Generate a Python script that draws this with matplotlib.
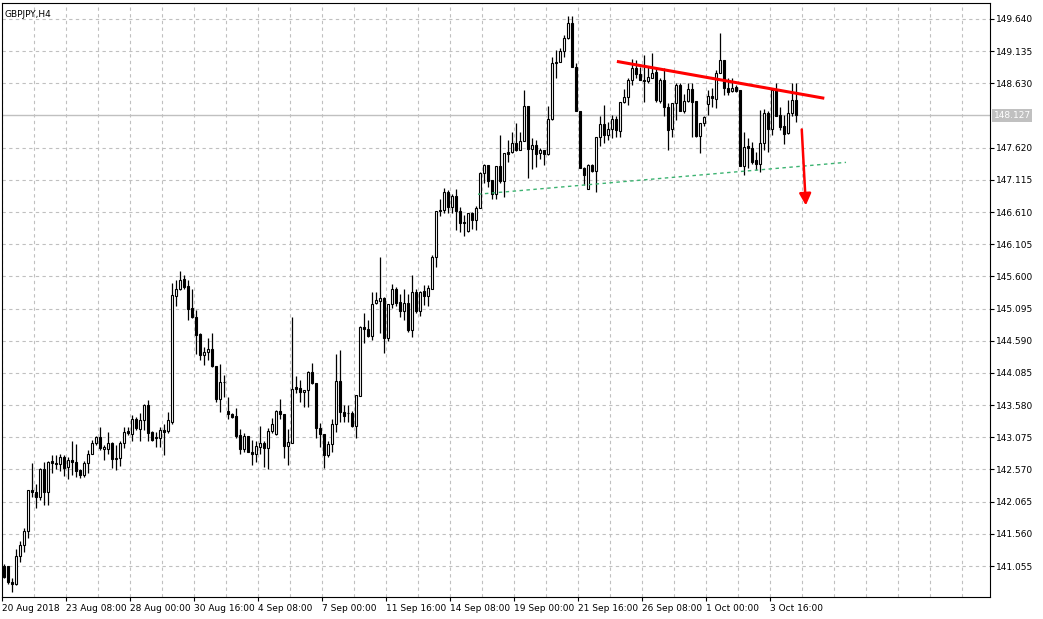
import matplotlib
matplotlib.use("Agg")
import matplotlib.pyplot as plt
import numpy as np

# GBPJPY H4 candles, first bar = 20 Aug 2018 16:00
opens = [141.05, 141.05, 140.80, 140.78, 141.21, 141.39, 141.60, 142.25, 142.21, 142.14,
         142.57, 142.21, 142.70, 142.67, 142.65, 142.76, 142.61, 142.72, 142.68, 142.56,
         142.48, 142.67, 142.82, 142.98, 143.08, 142.89, 142.89, 142.99, 142.74, 142.75,
         142.98, 143.17, 143.12, 143.36, 143.21, 143.34, 143.59, 143.16, 143.07, 143.07,
         143.19, 143.18, 143.32, 145.30, 145.40, 145.56, 145.45, 145.10, 144.96, 144.69,
         144.37, 144.41, 144.46, 144.19, 143.68, 143.94, 143.49, 143.44, 143.41, 143.11,
         142.89, 143.10, 142.85, 142.82, 142.93, 142.98, 142.90, 143.17, 143.12, 143.49,
         143.44, 142.94, 142.99, 143.87, 143.85, 143.78, 143.81, 144.10, 143.92, 143.22,
         143.12, 142.79, 142.97, 143.29, 143.96, 143.48, 143.45, 143.45, 143.26, 143.73,
         144.80, 144.77, 144.67, 145.18, 145.22, 145.26, 144.63, 145.17, 145.40, 145.20,
         145.05, 145.19, 144.76, 145.35, 145.05, 145.37, 145.30, 145.41, 145.91, 146.63,
         146.65, 146.93, 146.69, 146.86, 146.63, 146.46, 146.31, 146.59, 146.49, 146.68,
         147.22, 147.35, 147.11, 146.89, 147.34, 147.09, 147.55, 147.55, 147.70, 147.58,
         147.72, 148.27, 147.60, 147.67, 147.53, 147.58, 147.52, 148.07, 148.95, 148.97,
         149.13, 149.34, 149.58, 148.89, 148.20, 147.30, 146.97, 147.35, 147.25, 147.79,
         147.99, 147.82, 147.92, 148.07, 147.89, 148.34, 148.41, 148.69, 148.87, 148.78,
         148.69, 148.66, 148.72, 148.81, 148.36, 148.68, 148.26, 147.92, 148.32, 148.61,
         148.20, 148.35, 148.54, 148.35, 147.80, 148.00, 148.30, 148.43, 148.38, 148.80,
         148.99, 148.55, 148.51, 148.58, 148.53, 147.34, 147.64, 147.61, 147.42, 147.37,
         147.69, 148.17, 147.91, 148.52, 148.13, 147.96, 147.85, 148.17, 148.37]
highs = [141.08, 141.06, 140.86, 141.33, 141.44, 141.65, 142.25, 142.67, 142.35, 142.59,
         142.68, 142.71, 142.80, 142.80, 142.81, 142.80, 142.77, 143.01, 142.97, 142.57,
         142.70, 142.87, 143.03, 143.10, 143.24, 142.96, 143.16, 143.00, 142.95, 143.01,
         143.24, 143.24, 143.43, 143.40, 143.45, 143.60, 143.66, 143.18, 143.16, 143.24,
         143.28, 143.48, 145.49, 145.55, 145.69, 145.62, 145.54, 145.41, 145.07, 144.71,
         144.50, 144.63, 144.71, 144.19, 144.23, 144.05, 143.71, 143.45, 143.53, 143.21,
         143.15, 143.10, 143.03, 143.01, 143.25, 143.02, 143.22, 143.38, 143.50, 143.68,
         143.44, 143.21, 144.97, 144.03, 143.98, 143.82, 144.11, 144.24, 143.92, 143.30,
         143.12, 143.02, 143.37, 144.38, 144.44, 143.58, 143.58, 143.49, 143.74, 144.82,
         145.02, 144.92, 145.36, 145.35, 145.90, 145.28, 145.17, 145.48, 145.44, 145.33,
         145.41, 145.33, 145.63, 145.41, 145.37, 145.47, 145.47, 145.94, 146.62, 146.81,
         146.99, 146.96, 146.90, 146.97, 146.69, 146.56, 146.60, 146.61, 146.70, 147.24,
         147.36, 147.35, 147.11, 147.34, 147.82, 147.53, 147.74, 147.87, 148.00, 147.87,
         148.53, 148.27, 147.77, 147.74, 147.61, 147.59, 148.27, 149.05, 149.15, 149.18,
         149.39, 149.69, 149.69, 148.95, 148.20, 147.32, 147.36, 147.36, 147.79, 148.11,
         148.29, 148.03, 148.13, 148.11, 148.34, 148.54, 148.71, 149.01, 149.00, 148.89,
         149.07, 148.88, 149.10, 148.87, 148.71, 148.87, 148.32, 148.32, 148.63, 148.63,
         148.47, 148.63, 148.63, 148.35, 148.01, 148.12, 148.53, 148.55, 148.84, 149.42,
         148.99, 148.71, 148.71, 148.60, 148.53, 147.87, 147.77, 147.71, 147.56, 148.21,
         148.22, 148.20, 148.55, 148.63, 148.26, 148.13, 148.37, 148.63, 148.63]
lows = [140.86, 140.78, 140.65, 140.76, 141.12, 141.28, 141.49, 142.14, 141.97, 142.09,
        142.02, 142.02, 142.52, 142.58, 142.55, 142.47, 142.42, 142.48, 142.46, 142.43,
        142.45, 142.52, 142.81, 142.95, 142.88, 142.72, 142.82, 142.59, 142.56, 142.63,
        142.90, 143.11, 143.01, 143.19, 143.02, 143.19, 143.01, 143.01, 142.93, 142.93,
        142.80, 143.15, 143.29, 145.14, 145.39, 145.40, 144.91, 144.94, 144.39, 144.29,
        144.21, 144.29, 144.18, 143.63, 143.48, 143.71, 143.37, 143.38, 143.06, 142.81,
        142.85, 142.85, 142.64, 142.68, 142.81, 142.61, 142.58, 143.14, 143.11, 143.37,
        142.75, 142.64, 142.99, 143.77, 143.63, 143.55, 143.55, 143.91, 143.06, 142.93,
        142.60, 142.76, 142.84, 143.16, 143.31, 143.32, 143.31, 143.24, 143.06, 143.73,
        144.55, 144.65, 144.60, 145.16, 144.71, 144.40, 144.58, 145.10, 145.13, 144.97,
        144.92, 144.73, 144.65, 145.02, 144.98, 145.15, 145.13, 145.41, 145.75, 146.55,
        146.59, 146.59, 146.60, 146.33, 146.30, 146.23, 146.30, 146.35, 146.33, 146.68,
        147.06, 147.01, 146.81, 146.81, 147.06, 146.85, 147.40, 147.54, 147.57, 147.58,
        147.72, 147.14, 147.28, 147.32, 147.45, 147.35, 147.51, 148.06, 148.71, 148.97,
        149.05, 149.32, 148.89, 148.19, 147.30, 147.04, 146.97, 147.24, 146.93, 147.64,
        147.69, 147.74, 147.78, 147.79, 147.79, 148.32, 148.29, 148.60, 148.71, 148.68,
        148.34, 148.63, 148.71, 148.34, 148.32, 148.12, 147.58, 147.79, 148.05, 148.19,
        148.16, 148.34, 147.79, 147.79, 147.54, 147.96, 148.13, 148.26, 148.25, 148.80,
        148.45, 148.45, 148.50, 148.50, 147.34, 147.19, 147.30, 147.37, 147.27, 147.24,
        147.58, 147.56, 147.82, 148.11, 147.90, 147.68, 147.84, 148.11, 148.03]
closes = [140.89, 140.81, 140.77, 141.21, 141.39, 141.60, 142.25, 142.21, 142.14, 142.57,
          142.21, 142.68, 142.67, 142.65, 142.76, 142.60, 142.72, 142.68, 142.55, 142.48,
          142.67, 142.82, 142.98, 143.08, 142.90, 142.93, 142.99, 142.73, 142.75, 142.99,
          143.16, 143.14, 143.36, 143.22, 143.35, 143.59, 143.15, 143.03, 143.08, 143.19,
          143.16, 143.35, 145.31, 145.41, 145.55, 145.44, 145.09, 144.96, 144.68, 144.36,
          144.41, 144.46, 144.19, 143.68, 143.94, 143.95, 143.44, 143.40, 143.10, 142.89,
          143.09, 142.85, 142.82, 142.94, 142.98, 142.90, 143.17, 143.28, 143.49, 143.44,
          142.94, 143.00, 143.84, 143.84, 143.78, 143.82, 144.10, 143.92, 143.22, 143.12,
          142.79, 142.97, 143.29, 143.96, 143.48, 143.41, 143.45, 143.26, 143.74, 144.80,
          144.77, 144.66, 145.17, 145.23, 145.26, 144.63, 145.17, 145.40, 145.18, 145.05,
          145.19, 144.76, 145.35, 145.05, 145.36, 145.30, 145.42, 145.91, 146.62, 146.65,
          146.93, 146.69, 146.86, 146.63, 146.44, 146.44, 146.59, 146.49, 146.68, 147.22,
          147.35, 147.10, 146.89, 147.34, 147.09, 147.53, 147.52, 147.70, 147.58, 147.72,
          148.27, 147.60, 147.67, 147.52, 147.58, 147.52, 148.07, 148.95, 148.97, 149.13,
          149.34, 149.58, 148.89, 148.19, 147.30, 147.19, 147.35, 147.25, 147.79, 147.99,
          147.82, 147.92, 148.07, 147.90, 148.34, 148.41, 148.69, 148.87, 148.77, 148.69,
          148.66, 148.73, 148.80, 148.37, 148.68, 148.26, 147.90, 148.32, 148.60, 148.19,
          148.35, 148.54, 148.33, 147.80, 148.00, 148.10, 148.43, 148.40, 148.80, 148.99,
          148.55, 148.49, 148.56, 148.51, 147.34, 147.63, 147.61, 147.40, 147.36, 147.69,
          148.17, 147.91, 148.52, 148.12, 147.95, 147.84, 148.17, 148.37, 148.127]

date_labels = ['20 Aug 2018', '23 Aug 08:00', '28 Aug 00:00', '30 Aug 16:00', '4 Sep 08:00',
               '7 Sep 00:00', '11 Sep 16:00', '14 Sep 08:00', '19 Sep 00:00', '21 Sep 16:00',
               '26 Sep 08:00', '1 Oct 00:00', '3 Oct 16:00']
price_ticks = [141.055, 141.560, 142.065, 142.570, 143.075, 143.580, 144.085, 144.590,
               145.095, 145.600, 146.105, 146.610, 147.115, 147.620, 148.130, 148.630,
               149.135, 149.640]
last_price = 148.127

# drawn objects (bar index, price)
red_line_x = [153.6, 204.7]
red_line_y = [148.97, 148.40]
green_line_x = [118.5, 210.5]
green_line_y = [146.89, 147.39]
arrow_x = [199.4, 200.5]
arrow_y = [147.95, 146.67]

o = np.array(opens); h = np.array(highs); l = np.array(lows); c = np.array(closes)
idx = np.arange(len(o))

fig = plt.figure(figsize=(10.43, 6.19), dpi=100)
ax = fig.add_axes([2/1043, 22/619, 988/1043, 594/619])
ax.set_xlim(-0.5, 246.5)
ax.set_ylim(140.569, 149.891)

gridc = '#c0c0c0'
for p in price_ticks:
    if p != 148.130:
        ax.axhline(p, color=gridc, lw=0.8, dashes=(3, 3), zorder=0)
for gx in np.arange(-0.5, 240, 8):
    ax.axvline(gx, color=gridc, lw=0.8, dashes=(3, 3), zorder=0)
ax.axhline(last_price, color=gridc, lw=1, zorder=0.5)

ax.vlines(idx, l, h, color='black', lw=0.9, zorder=2)
up = c >= o
ax.bar(idx[up], c[up] - o[up], bottom=o[up], width=0.68, color='white',
       edgecolor='black', linewidth=0.8, zorder=3)
ax.bar(idx[~up], c[~up] - o[~up], bottom=o[~up], width=0.68, color='black',
       edgecolor='black', linewidth=0.8, zorder=3)

ax.plot(green_line_x, green_line_y, color='#3cb371', lw=1, dashes=(2.5, 2.5), zorder=4)
ax.plot(red_line_x, red_line_y, color='red', lw=2.2, zorder=5)
ax.annotate('', xy=(arrow_x[1], arrow_y[1]), xytext=(arrow_x[0], arrow_y[0]),
            arrowprops=dict(arrowstyle='-|>,head_length=0.7,head_width=0.35',
                            color='red', lw=1.8), zorder=5)

for s in ax.spines.values():
    s.set_linewidth(0.8)
    s.set_color('black')

ax.yaxis.tick_right()
ax.set_yticks([p for p in price_ticks if p != 148.130])
ax.set_yticklabels(['%.3f' % p for p in price_ticks if p != 148.130])
ax.tick_params(axis='y', direction='out', length=3, width=0.8, pad=1.5, labelsize=6.5)
ax.set_xticks(np.arange(len(date_labels)) * 16 - 0.5)
ax.set_xticklabels(date_labels, ha='left')
ax.tick_params(axis='x', direction='out', length=3, width=0.8, pad=2, labelsize=6.5)

ax.text(1.0035, last_price, '%.3f' % last_price, transform=ax.get_yaxis_transform(),
        fontsize=6.5, color='white', va='center', ha='left',
        bbox=dict(boxstyle='square,pad=0.2', facecolor=gridc, edgecolor='none'))
ax.text(0.003, 0.988, 'GBPJPY,H4', transform=ax.transAxes, fontsize=6.5,
        va='top', ha='left')

fig.savefig('out.png', dpi=100)
